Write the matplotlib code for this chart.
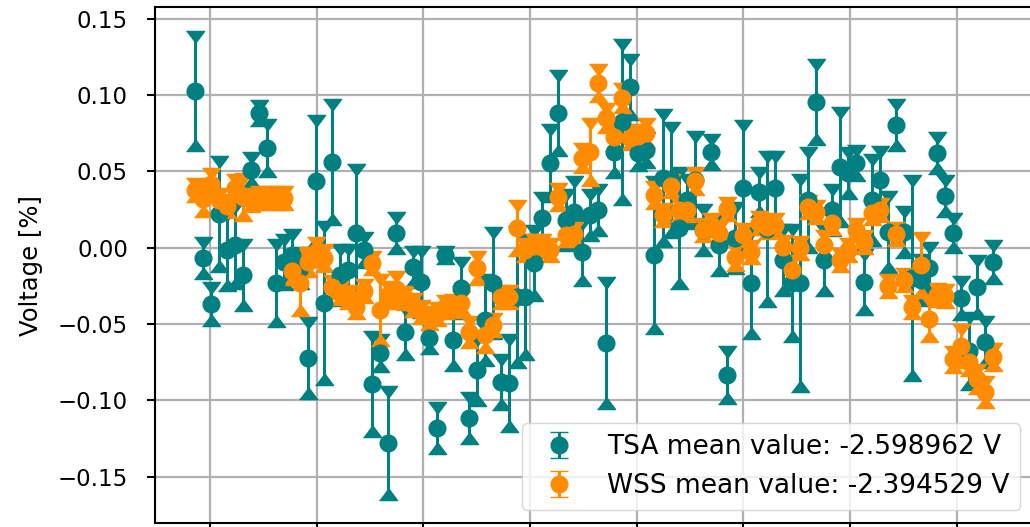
import numpy as np
import matplotlib
matplotlib.use("Agg")
import matplotlib.pyplot as plt

###############################################################################
#Data
###############################################################################
n_points = 100
x = np.arange(n_points)

tsa_label = "TSA mean value: -2.598962 V"
wss_label = "WSS mean value: -2.394529 V"

tsa = [0.1027, -0.0067, -0.0369, 0.0221, -0.0015, 0.0018, -0.0179, 0.0509, 0.0882, 0.0653,
       -0.0231, -0.0094, -0.0048, -0.0133, -0.0722, 0.0437, -0.0362, 0.0562, -0.0179, -0.0146,
       0.0096, -0.0015, -0.0893, -0.0690, -0.1277, 0.0096, -0.0552, -0.0126, -0.0225, -0.0592,
       -0.1181, -0.0048, -0.0605, -0.0264, -0.1116, -0.0801, -0.0474, -0.0231, -0.0880, -0.0886,
       -0.0323, -0.0323, -0.0100, 0.0195, 0.0555, 0.0882, 0.0182, 0.0234, -0.0028, 0.0214,
       0.0247, -0.0624, 0.0627, 0.0823, 0.1053, 0.0620, 0.0640, -0.0048, 0.0457, 0.0444,
       0.0129, 0.0313, 0.0444, 0.0116, 0.0627, 0.0018, -0.0834, 0.0064, 0.0391, -0.0231,
       0.0365, 0.0123, 0.0391, -0.0080, -0.0231, -0.0231, 0.0313, 0.0955, -0.0080, 0.0247,
       0.0529, 0.0490, 0.0555, -0.0225, 0.0313, 0.0444, 0.0103, 0.0804, 0.0103, -0.0199,
       -0.0212, -0.0133, 0.0620, 0.0339, 0.0096, -0.0330, -0.0677, -0.0258, -0.0618, -0.0094]

tsa_err = [0.0354, 0.0098, 0.0105, 0.0341, 0.0229, 0.0249, 0.0197, 0.0079, 0.0046, 0.0151,
           0.0249, 0.0144, 0.0131, 0.0098, 0.0229, 0.0393, 0.0500, 0.0373, 0.0164, 0.0131,
           0.0413, 0.0079, 0.0308, 0.0085, 0.0334, 0.0098, 0.0144, 0.0098, 0.0197, 0.0066,
           0.0131, 0.0020, 0.0164, 0.0164, 0.0131, 0.0197, 0.0262, 0.0328, 0.0144, 0.0282,
           0.0426, 0.0373, 0.0210, 0.0131, 0.0216, 0.0242, 0.0164, 0.0197, 0.0183, 0.0131,
           0.0131, 0.0393, 0.0131, 0.0504, 0.0177, 0.0079, 0.0079, 0.0478, 0.0413, 0.0341,
           0.0360, 0.0131, 0.0282, 0.0131, 0.0079, 0.0164, 0.0151, 0.0197, 0.0406, 0.0328,
           0.0124, 0.0472, 0.0203, 0.0197, 0.0347, 0.0675, 0.0308, 0.0242, 0.0197, 0.0131,
           0.0354, 0.0131, 0.0079, 0.0177, 0.0262, 0.0183, 0.0229, 0.0131, 0.0131, 0.0636,
           0.0131, 0.0131, 0.0098, 0.0098, 0.0092, 0.0105, 0.0216, 0.0170, 0.0131, 0.0105]

wss = [0.0378, 0.0319, 0.0417, 0.0313, 0.0273, 0.0391, 0.0332, 0.0313, 0.0326, 0.0326,
       0.0326, 0.0326, -0.0153, -0.0231, -0.0094, -0.0028, -0.0067, -0.0257, -0.0297, -0.0323,
       -0.0388, -0.0284, -0.0100, -0.0408, -0.0310, -0.0271, -0.0330, -0.0375, -0.0421, -0.0461,
       -0.0434, -0.0388, -0.0382, -0.0362, -0.0552, -0.0132, -0.0572, -0.0507, -0.0323, -0.0323,
       0.0129, -0.0015, 0.0011, 0.0011, -0.0015, 0.0332, 0.0083, 0.0090, 0.0588, 0.0627,
       0.1079, 0.0850, 0.0725, 0.0980, 0.0719, 0.0732, 0.0752, 0.0345, 0.0214, 0.0404,
       0.0247, 0.0247, 0.0437, 0.0116, 0.0149, 0.0096, 0.0254, -0.0061, 0.0083, -0.0028,
       0.0162, 0.0136, 0.0149, 0.0005, -0.0146, -0.0002, 0.0267, 0.0234, 0.0018, 0.0162,
       -0.0080, -0.0015, 0.0116, 0.0037, 0.0227, 0.0247, -0.0251, 0.0090, -0.0212, -0.0388,
       -0.0113, -0.0467, -0.0310, -0.0316, -0.0732, -0.0647, -0.0749, -0.0860, -0.0945, -0.0716]

wss_err = [0.0040, 0.0080, 0.0066, 0.0040, 0.0040, 0.0050, 0.0120, 0.0040, 0.0040, 0.0040,
           0.0040, 0.0040, 0.0050, 0.0180, 0.0060, 0.0060, 0.0050, 0.0040, 0.0040, 0.0040,
           0.0040, 0.0040, 0.0040, 0.0197, 0.0050, 0.0079, 0.0040, 0.0040, 0.0040, 0.0040,
           0.0040, 0.0040, 0.0040, 0.0040, 0.0066, 0.0072, 0.0079, 0.0040, 0.0040, 0.0040,
           0.0144, 0.0040, 0.0040, 0.0040, 0.0040, 0.0050, 0.0040, 0.0040, 0.0060, 0.0183,
           0.0085, 0.0060, 0.0050, 0.0060, 0.0040, 0.0040, 0.0060, 0.0050, 0.0040, 0.0040,
           0.0040, 0.0040, 0.0050, 0.0040, 0.0040, 0.0040, 0.0040, 0.0050, 0.0040, 0.0040,
           0.0040, 0.0040, 0.0040, 0.0040, 0.0060, 0.0040, 0.0040, 0.0040, 0.0060, 0.0040,
           0.0040, 0.0040, 0.0040, 0.0040, 0.0040, 0.0040, 0.0040, 0.0040, 0.0040, 0.0040,
           0.0177, 0.0111, 0.0040, 0.0040, 0.0050, 0.0105, 0.0050, 0.0060, 0.0066, 0.0050]

#Grid positions along the (hidden) x axis
x_grid = [1.86, 15.09, 28.33, 41.56, 54.80, 68.03, 81.27, 94.50]
y_ticks = [-0.15, -0.10, -0.05, 0.00, 0.05, 0.10, 0.15]

###############################################################################
#Plot
###############################################################################
fig = plt.figure(figsize=(10.3, 5.27), dpi=100)
ax = fig.add_axes([0.1505, 0.0076, 0.8524, 0.979])

#Triangle caps, wider than tall
cap_down = [(-1, 0.67), (1, 0.67), (0, -0.67)]
cap_up = [(-1, -0.67), (1, -0.67), (0, 0.67)]

def draw_series(y, yerr, color, label):
    eb = ax.errorbar(x, y, yerr=yerr, fmt="o", color=color, ecolor=color,
                     markersize=12, elinewidth=2.2, capsize=6, capthick=1,
                     label=label, zorder=3)
    caps = eb[1]
    caps[0].set_marker(cap_up)
    caps[1].set_marker(cap_down)
    for c in caps:
        c.set_markersize(13)
        c.set_markeredgewidth(1)
    return eb

draw_series(tsa, tsa_err, "teal", tsa_label)
draw_series(wss, wss_err, "darkorange", wss_label)

ax.set_xlim(-4.95, 103.95)
ax.set_ylim(-0.1804, 0.1577)
ax.set_xticks(x_grid)
ax.set_xticklabels([])
ax.set_yticks(y_ticks)
ax.set_yticklabels(["%.2f" % v if v >= 0 else "\u2212%.2f" % -v for v in y_ticks])

ax.grid(True, color="#b0b0b0", linewidth=1.6)
ax.set_axisbelow(True)
ax.tick_params(axis="both", length=6, width=1.5, labelsize=16.5)
ax.tick_params(axis="y", pad=13.5)
for s in ax.spines.values():
    s.set_linewidth(1.5)

ax.set_ylabel("Voltage [%]", fontsize=17.5)
ax.yaxis.set_label_coords(-0.128, 0.5)

ax.legend(loc="lower right", fontsize=19)

fig.savefig("out.png", dpi=100)
